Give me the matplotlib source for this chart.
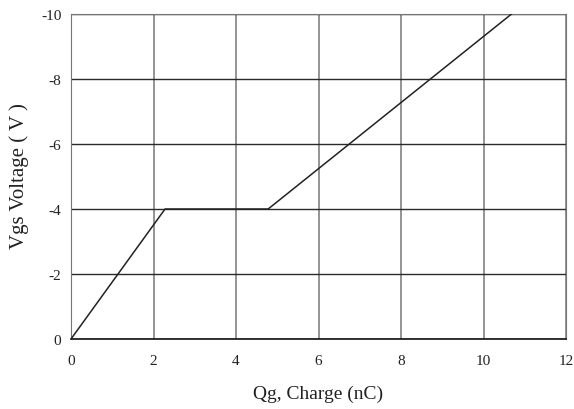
import matplotlib
matplotlib.use("Agg")
import matplotlib.pyplot as plt

# gate charge curve (Qg in nC, Vgs in V)
qg = [0, 2.28, 4.78, 10.68]
vgs = [0, -4, -4, -10]

xticks = [0, 2, 4, 6, 8, 10, 12]
yticks = [0, -2, -4, -6, -8, -10]

plt.rcParams['font.family'] = ['Liberation Serif', 'DejaVu Serif']
plt.rcParams['axes.unicode_minus'] = False

fig = plt.figure(figsize=(5.74, 4.1), dpi=100)
ax = fig.add_axes([71 / 574, 1 - 340 / 410, 495 / 574, 325 / 410])

vgrid_c = '#767676'
hgrid_c = '#2a2a2a'
ax.plot(qg, vgs, color='#222222', lw=1.1, zorder=3)
ax.set_xlim(0, 12)
ax.set_ylim(0, -10)
ax.set_xticks(xticks)
ax.set_yticks(yticks)
ax.grid(True, axis='x', color=vgrid_c, lw=1.1)
ax.grid(True, axis='y', color=hgrid_c, lw=1.0)
ax.tick_params(length=0, labelsize=11, colors='#222222')
ax.tick_params(axis='x', pad=11)
ax.tick_params(axis='y', pad=7)
for s in ['top', 'right', 'left']:
    ax.spines[s].set_color(vgrid_c)
ax.spines['bottom'].set_color('#111111')
ax.spines['bottom'].set_linewidth(1.2)

ax.set_xlabel('Qg, Charge (nC)', fontsize=14, color='#222222')
ax.xaxis.set_label_coords(0.499, -0.168)
ax.set_ylabel('Vgs Voltage ( V )', fontsize=15, color='#222222')
ax.yaxis.set_label_coords(-0.105, 0.505)
ax.yaxis.label.set_va('center')
ax.xaxis.label.set_va('center')

fig.savefig('out.png', dpi=100)
